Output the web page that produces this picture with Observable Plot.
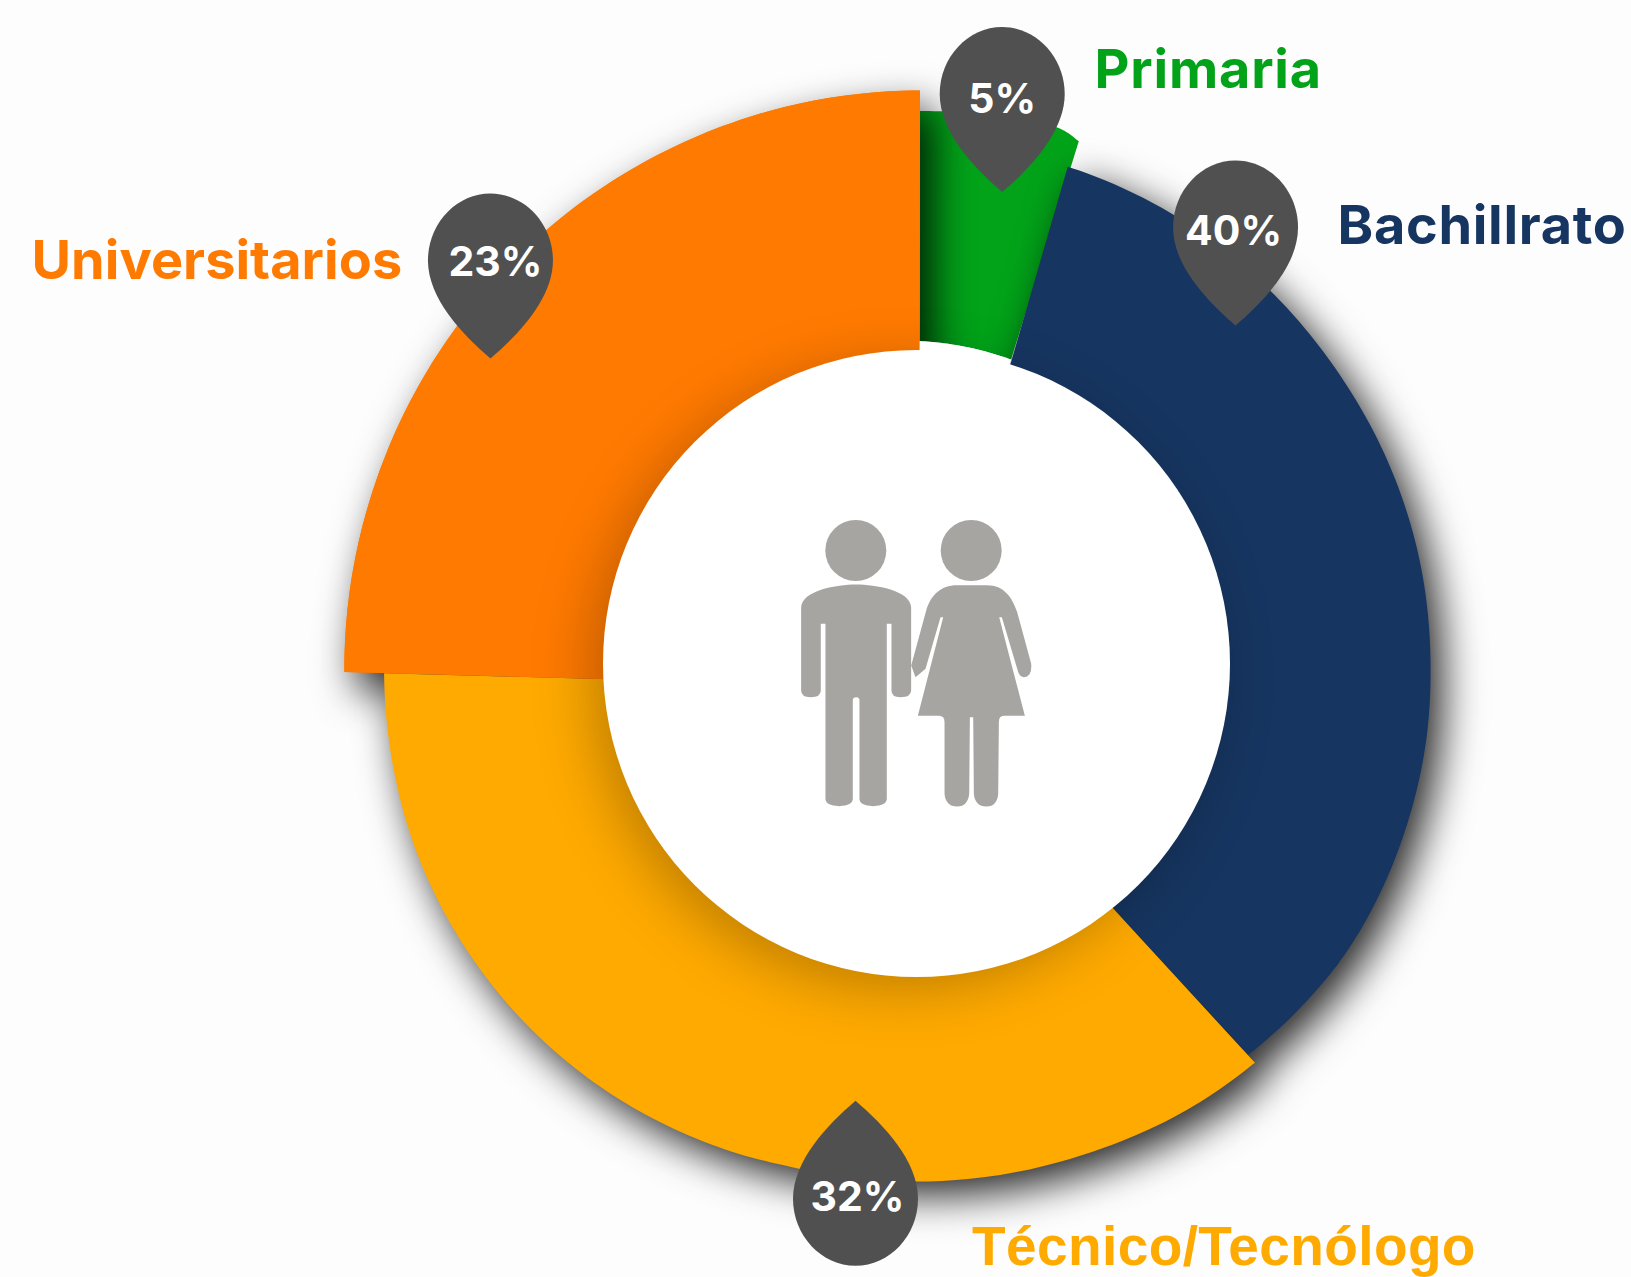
<!DOCTYPE html>
<html><head><meta charset="utf-8">
<script src="https://cdn.jsdelivr.net/npm/d3@7"></script>
<script src="https://cdn.jsdelivr.net/npm/@observablehq/plot@0.6"></script>
<style>html,body{margin:0;background:#fdfdfd}svg{display:block}</style>
</head><body>
<div id="chart"></div>
<script>
const categories = ["Primaria", "Bachillrato", "Técnico/Tecnólogo", "Universitarios"];
const shares = [5, 40, 32, 23];
const colors = ["#02a319", "#163560", "#ffaa00", "#ff7a00"];

// Outer rim of each slice: angle (deg clockwise from top), radius
const primariaAngle = [0.4, 8.6, 14.6, 17.33];
const primariaRadius = [552, 553, 554, 546.5];
const bachilleratoAngle = [17, 29.6, 43.3, 54.7, 66, 78.4, 89.4, 98.6, 108.8, 116, 124, 129.7, 139.7];
const bachilleratoRadius = [519, 517, 514, 512.5, 513, 514, 514.5, 516, 517, 518, 518.5, 517, 513.8];
const tecnicoAngle = [139.7, 148.8, 161.4, 180, 193, 200, 210, 220, 230, 241, 250, 259, 268.9];
const tecnicoRadius = [524, 522.6, 519.5, 518.5, 519, 522, 526, 529.5, 532, 533.5, 534, 533, 532];
const universitariosAngle = [269.1, 286.6, 297.5, 306.2, 319.6, 333.3, 344.1, 360.4];
const universitariosRadius = [571.7, 570, 569.5, 569.3, 569.3, 570, 571, 572.6];

// Inner edge of each slice: start angle, end angle, start radius, end radius
const innerEdges = [[0.65, 17.4, 322, 318], [17.7, 141.7, 280, 280], [141.7, 266.5, 280, 280], [266.5, 360.74, 280, 280]];

// Pin placement (polar), percentage label nudges
const pinAngle = [8.56, 36.2, 186.5, 313.4];
const pinRadius = [575.8, 540.2, 538.8, 586.4];
const pinRotate = [0, 0, 180, 0];
const pctDx = [0, -2, 2, 5];
const pctDy = [6, 4, -1, 2];

// Category label anchors, relative to the ring centre
const labelX = [178, 421, 55.5, -885];
const labelY = [-575.5, -419.5, 601, -385];

const centre = {x: 916, y: 663};
const ringRadius = 313.5;

const polar = (a, r) => {
  const t = a * Math.PI / 180;
  return [r * Math.sin(t), -r * Math.cos(t)];
};

// Trace a rim smoothly through the points (arc tessellation for drawing only)
function traceRim(angles, radii, steps = 12) {
  const out = [];
  const n = angles.length;
  const cr = (v, i, t) => {
    const p0 = v[Math.max(i - 1, 0)], p1 = v[i], p2 = v[i + 1], p3 = v[Math.min(i + 2, n - 1)];
    return 0.5 * (2 * p1 + (p2 - p0) * t + (2 * p0 - 5 * p1 + 4 * p2 - p3) * t * t + (3 * p1 - p0 - 3 * p2 + p3) * t * t * t);
  };
  for (let i = 0; i < n - 1; ++i)
    for (let s = 0; s < steps; ++s) out.push([cr(angles, i, s / steps), cr(radii, i, s / steps)]);
  out.push([angles[n - 1], radii[n - 1]]);
  return out;
}

const rims = [[primariaAngle, primariaRadius], [bachilleratoAngle, bachilleratoRadius],
  [tecnicoAngle, tecnicoRadius], [universitariosAngle, universitariosRadius]];
const sliceRows = rims.map(([angles, radii], k) => {
  const [a0, a1, r0, r1] = innerEdges[k];
  const rim = traceRim(angles, radii);
  return rim.map(([a, r], i) => {
    const f = i / (rim.length - 1);
    const [x1, y1] = polar(a, r);
    const [x2, y2] = polar(a0 + (a1 - a0) * f, r0 + (r1 - r0) * f);
    return {categoria: categories[k], x1, y1, x2, y2};
  });
});
// white gap between the green slice's own inner edge and the centre disc
const gapRows = sliceRows[0].map((d, i, rows) => {
  const f = i / (rows.length - 1);
  const [a0, a1] = innerEdges[0];
  const [x2, y2] = polar(a0 + (a1 - a0) * f, 280);
  return {x1: d.x2, y1: d.y2, x2, y2};
});

const pins = categories.map((categoria, i) => {
  const [x, y] = polar(pinAngle[i], pinRadius[i]);
  return {categoria, x, y, rotate: pinRotate[i], label: shares[i] + "%", tx: x + pctDx[i], ty: y + pctDy[i]};
});
const labels = categories.map((categoria, i) => ({categoria, x: labelX[i], y: labelY[i]}));

// Outline → custom d3 symbol, so each icon is a Plot.dot
function pathSymbol(d, ox, oy, unit, baseR) {
  const tokens = d.match(/[MLCQZ]|-?[\d.]+/g);
  return {
    draw(ctx, size) {
      const k = unit * Math.sqrt(size / Math.PI) / baseR;
      let i = 0;
      const X = () => (+tokens[i++] - ox) * k, Y = () => (+tokens[i++] - oy) * k;
      while (i < tokens.length) {
        const c = tokens[i++];
        if (c === "M") ctx.moveTo(X(), Y());
        else if (c === "L") ctx.lineTo(X(), Y());
        else if (c === "Q") ctx.quadraticCurveTo(X(), Y(), X(), Y());
        else if (c === "C") ctx.bezierCurveTo(X(), Y(), X(), Y(), X(), Y());
        else ctx.closePath();
      }
    }
  };
}
const pinSymbol = pathSymbol("M0 98 C-28 74 -62.5 38 -62.5 0 C-62.5 -37 -34 -67 0 -67 C34 -67 62.5 -37 62.5 0 C62.5 38 28 74 0 98 Z", 0, 0, 1, 62.5);
const manSymbol = pathSymbol("M122 320 C125 270 230 252 286 252 C345 252 450 270 452 320 L452 570 Q452 590 420 590 Q393 590 393 570 L393 370 L379 370 L379 895 Q379 915 338 917 Q297 915 297 895 L297 600 Q297 590 287 590 Q277 590 277 600 L277 895 Q277 915 236 917 Q195 915 195 895 L195 370 L181 370 L181 570 Q181 590 151 590 Q122 590 122 570 Z", 286, 584, 1 / 3, 100);
const womanSymbol = pathSymbol("M590 254 L680 254 C730 254 755 290 770 335 L812 490 Q815 530 790 530 Q775 530 770 505 L724 350 L716 350 L793 646 L730 646 Q715 646 715 665 L713 880 Q710 918 678 918 Q643 918 640 880 L638 650 L628 650 L626 880 Q622 918 590 918 Q555 918 552 880 L552 665 Q552 646 535 646 L472 646 L548 350 L540 350 L495 505 L465 530 L452 495 L497 330 C510 285 540 254 590 254 Z", 632, 586, 1 / 3, 100);

const figures = [{x: -60.7, headY: -113, bodyY: 31.7}, {x: 54.7, headY: -113, bodyY: 32.3}];
const iconFill = "#a6a5a1";
const areaOpts = {x1: "x1", y1: "y1", x2: "x2", y2: "y2", fill: "categoria"};

// Per-label text styling, tracked a little to reach the widths in the picture
const labelStyle = {
  "Primaria": {fontFamily: "Inter", fontSize: 54, tracking: 0.8},
  "Bachillrato": {fontFamily: "Inter", fontSize: 54, tracking: 0.7},
  "Técnico/Tecnólogo": {fontFamily: "Liberation Sans", fontSize: 55, tracking: 0.4},
  "Universitarios": {fontFamily: "Inter", fontSize: 54, tracking: 0.05}
};
const labelMarks = labels.map(d => {
  const {fontFamily, fontSize, tracking} = labelStyle[d.categoria];
  return Plot.text([d], {x: "x", y: "y", text: "categoria", fill: "categoria", textAnchor: "start", lineAnchor: "bottom",
    fontWeight: 700, fontFamily, fontSize,
    render(index, scales, values, dimensions, context, next) {
      const g = next(index, scales, values, dimensions, context);
      g.setAttribute("letter-spacing", tracking);
      return g;
    }});
});

const plot = Plot.plot({
  width: 1631, height: 1277,
  margin: 0,
  style: {background: "#fdfdfd", overflow: "hidden"},
  x: {domain: [-centre.x, 1631 - centre.x], range: [0, 1631], axis: null},
  y: {domain: [-centre.y, 1277 - centre.y], range: [0, 1277], axis: null},
  color: {domain: categories, range: colors},
  marks: [
    Plot.area(sliceRows[0], areaOpts),
    Plot.area(sliceRows[3], {...areaOpts, imageFilter: "drop-shadow(12px 18px 20px rgba(0,0,0,.85))"}),
    Plot.area(sliceRows[1].concat(sliceRows[2]), {...areaOpts, z: "categoria", imageFilter: "drop-shadow(12px 14px 20px rgba(0,0,0,.85))"}),
    // orange again, shadowless, so the yellow slice's shadow does not fall on it
    Plot.area(sliceRows[3], areaOpts),
    Plot.dot([{x: 0, y: 0}], {x: "x", y: "y", r: ringRadius, fill: "white",
      imageFilter: "drop-shadow(-14px 14px 28px rgba(0,0,0,.24))"}),
    Plot.area(gapRows, {x1: "x1", y1: "y1", x2: "x2", y2: "y2", fill: "white"}),
    Plot.dot(figures, {x: "x", y: "headY", r: 30.5, fill: iconFill}),
    Plot.dot(figures.slice(0, 1), {x: "x", y: "bodyY", r: 100, symbol: manSymbol, fill: iconFill}),
    Plot.dot(figures.slice(1), {x: "x", y: "bodyY", r: 100, symbol: womanSymbol, fill: iconFill}),
    Plot.dot(pins, {x: "x", y: "y", r: 62.5, rotate: "rotate", symbol: pinSymbol, fill: "#505050"}),
    Plot.text(pins, {x: "tx", y: "ty", text: "label", fill: "white", fontFamily: "Inter", fontWeight: 700, fontSize: 41}),
    ...labelMarks
  ]
});
document.getElementById("chart").append(plot);
</script>
</body></html>
